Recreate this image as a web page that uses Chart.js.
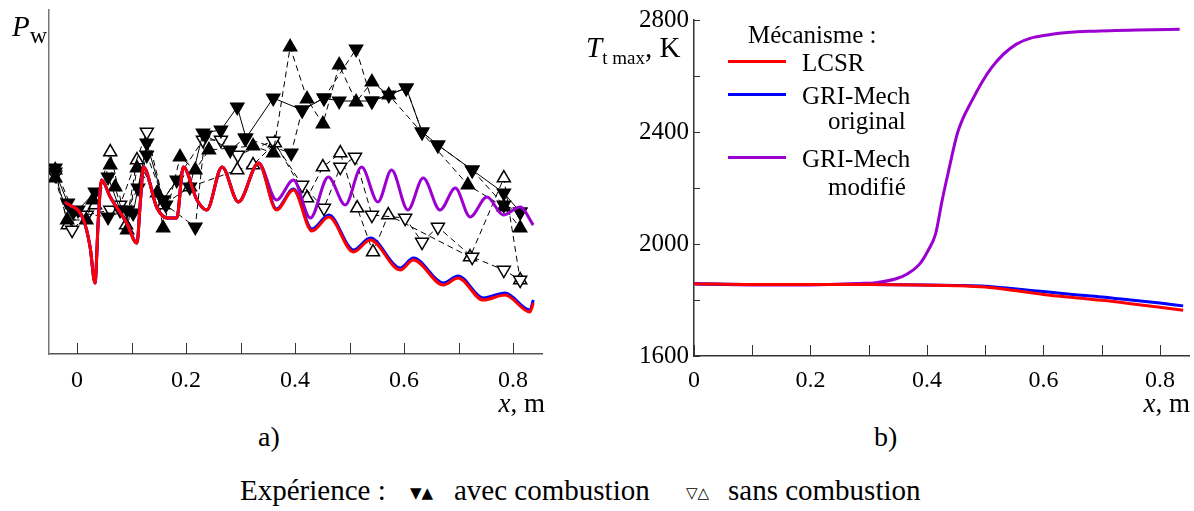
<!DOCTYPE html>
<html>
<head>
<meta charset="utf-8">
<script src="https://cdn.jsdelivr.net/npm/chart.js@4.4.1/dist/chart.umd.min.js"></script>
<style>
  body { margin: 0; background: #fff; }
  #wrap { position: relative; width: 1194px; height: 511px; overflow: hidden; font-family: "Liberation Serif", "Times New Roman", serif; color: #000; }
  #wrap canvas { position: absolute; top: 0; }
  .t { position: absolute; white-space: nowrap; font-size: 24px; line-height: 1; font-family: "Liberation Serif", serif; }
  .tri { position: absolute; white-space: nowrap; font-size: 15px; line-height: 1; font-family: "DejaVu Sans", sans-serif; }
  .key { position: absolute; height: 3px; width: 58px; }
</style>
</head>
<body>
<div id="wrap">
  <canvas id="chartA" width="560" height="400" style="left:0px"></canvas>
  <canvas id="chartB" width="614" height="400" style="left:580px"></canvas>

  <div class="t" style="left:12px;top:12px;font-size:29px"><i>P</i><span style="font-size:24px;position:relative;top:7px">w</span></div>
  <div class="t" style="left:586px;top:33px;font-size:29px"><i>T</i><span style="font-size:19px;position:relative;top:7px">t max</span>, K</div>

  <div class="t" style="right:649px;top:390px;font-size:27px"><i>x</i>, m</div>
  <div class="t" style="right:4px;top:390px;font-size:27px"><i>x</i>, m</div>
  <div class="t" style="left:258px;top:423px;font-size:28px">a)</div>
  <div class="t" style="left:874px;top:423px;font-size:28px">b)</div>

  <div class="t" style="left:748px;top:22px;font-size:25px">Mécanisme :</div>
  <div class="key" style="left:728px;top:60px;background:#ff0000"></div>
  <div class="t" style="left:802px;top:50px;font-size:25px">LCSR</div>
  <div class="key" style="left:728px;top:93px;background:#0000ff"></div>
  <div class="t" style="left:802px;top:83px;font-size:25px">GRI-Mech</div>
  <div class="t" style="left:828px;top:108px;font-size:25px">original</div>
  <div class="key" style="left:728px;top:156px;background:#9b00d0"></div>
  <div class="t" style="left:802px;top:146px;font-size:25px">GRI-Mech</div>
  <div class="t" style="left:828px;top:174px;font-size:25px">modifié</div>

  <div class="t" style="left:240px;top:476px;font-size:29px">Expérience :</div>
  <div class="tri" style="left:410px;top:486px">▼▲</div>
  <div class="t" style="left:454px;top:476px;font-size:29px">avec combustion</div>
  <div class="tri" style="left:686px;top:486px">▽△</div>
  <div class="t" style="left:728px;top:476px;font-size:29px">sans combustion</div>
</div>

<script>
// panel a) : wall pressure along x (arbitrary units)
const pwX = [-0.022, 0.012, 0.024, 0.033, 0.039, 0.045, 0.061, 0.091, 0.110, 0.116, 0.122, 0.146, 0.165, 0.183, 0.195, 0.220, 0.238, 0.266, 0.296, 0.333, 0.366, 0.397, 0.431, 0.462, 0.507, 0.538, 0.593, 0.617, 0.672, 0.699, 0.745, 0.785, 0.831, 0.837];
const pwLcsr = [1.52, 1.34, 1.07, 0.71, 1.34, 1.74, 1.57, 1.31, 1.11, 1.51, 1.87, 1.47, 1.36, 1.36, 1.87, 1.54, 1.44, 1.87, 1.52, 1.91, 1.44, 1.64, 1.23, 1.37, 1.02, 1.14, 0.84, 0.94, 0.69, 0.76, 0.54, 0.59, 0.42, 0.51];
const pwGriOrig = [1.52, 1.34, 1.07, 0.71, 1.34, 1.74, 1.57, 1.31, 1.11, 1.51, 1.87, 1.47, 1.36, 1.36, 1.87, 1.54, 1.44, 1.87, 1.52, 1.91, 1.45, 1.65, 1.25, 1.39, 1.04, 1.16, 0.86, 0.96, 0.71, 0.78, 0.56, 0.61, 0.44, 0.54];
const pwModX = [-0.022, 0.012, 0.024, 0.033, 0.039, 0.045, 0.061, 0.091, 0.110, 0.116, 0.122, 0.146, 0.165, 0.183, 0.195, 0.220, 0.238, 0.266, 0.296, 0.333, 0.366, 0.397, 0.428, 0.461, 0.492, 0.522, 0.552, 0.577, 0.607, 0.635, 0.666, 0.694, 0.721, 0.752, 0.782, 0.813, 0.837];
const pwMod = [1.52, 1.34, 1.07, 0.71, 1.34, 1.74, 1.57, 1.31, 1.11, 1.51, 1.87, 1.47, 1.36, 1.36, 1.87, 1.54, 1.44, 1.87, 1.52, 1.91, 1.54, 1.74, 1.36, 1.77, 1.49, 1.87, 1.52, 1.84, 1.44, 1.76, 1.44, 1.66, 1.37, 1.57, 1.39, 1.47, 1.29];

// experiments (avec combustion: filled, sans combustion: open)
const expA_x = [-0.040, -0.017, 0.002, 0.033, 0.057, 0.079, 0.103, 0.128, 0.158, 0.183, 0.207, 0.231, 0.264, 0.294, 0.310, 0.360, 0.413, 0.453, 0.481, 0.541, 0.572, 0.604, 0.633, 0.662, 0.725, 0.783, 0.813];
const expA_p = [1.82, 1.51, 1.44, 1.62, 1.77, 1.44, 1.41, 2.11, 1.54, 1.74, 1.67, 2.21, 2.24, 2.47, 2.16, 2.56, 2.44, 2.56, 2.53, 2.53, 2.59, 2.66, 2.22, 2.09, 1.84, 1.61, 1.42];
const expB_x = [-0.040, -0.018, 0.017, 0.029, 0.061, 0.070, 0.092, 0.110, 0.147, 0.158, 0.189, 0.217, 0.242, 0.323, 0.360, 0.391, 0.422, 0.451, 0.481, 0.512, 0.541, 0.572, 0.717, 0.783, 0.813];
const expB_p = [1.76, 1.34, 1.34, 1.54, 1.89, 1.67, 1.24, 1.86, 1.61, 1.26, 1.97, 1.84, 2.04, 2.08, 2.01, 3.07, 2.55, 2.30, 2.89, 2.52, 2.72, 2.59, 1.69, 1.47, 1.26];
const expC_x = [-0.040, -0.007, 0.057, 0.092, 0.112, 0.128, 0.163, 0.217, 0.235, 0.281, 0.308, 0.393, 0.413, 0.453, 0.512, 0.541, 0.604, 0.633, 0.662, 0.725, 0.783, 0.813];
const expC_p = [1.86, 1.42, 1.37, 1.44, 1.66, 1.99, 1.49, 1.27, 2.19, 2.04, 2.16, 2.01, 2.44, 2.56, 3.05, 2.53, 2.66, 2.22, 2.09, 1.84, 1.49, 1.42];
const expD_x = [-0.040, -0.009, 0.018, 0.061, 0.079, 0.128, 0.158, 0.231, 0.264, 0.295, 0.360, 0.413, 0.453, 0.483, 0.510, 0.541, 0.602, 0.633, 0.662, 0.725, 0.783, 0.813];
const expD_p = [1.79, 1.24, 1.39, 1.44, 1.49, 2.22, 1.54, 2.14, 2.14, 1.99, 2.13, 1.69, 1.46, 1.87, 1.97, 1.39, 1.36, 1.12, 1.27, 0.97, 0.84, 0.74];
const expE_x = [-0.040, -0.017, 0.033, 0.061, 0.090, 0.110, 0.158, 0.207, 0.294, 0.323, 0.363, 0.422, 0.451, 0.483, 0.514, 0.543, 0.571, 0.721, 0.783, 0.813];
const expE_p = [1.84, 1.29, 1.49, 2.02, 1.29, 1.94, 1.49, 1.67, 1.84, 1.89, 2.11, 1.56, 1.87, 2.01, 1.46, 1.02, 1.39, 0.97, 1.76, 0.74];

// panel b) : maximum temperature, K
const tX = [0, 0.1, 0.2, 0.3, 0.4, 0.45, 0.5, 0.55, 0.6, 0.65, 0.7, 0.75, 0.8, 0.84];
const tLcsr = [1858, 1855, 1855, 1855, 1853, 1851, 1846, 1834, 1820, 1809, 1799, 1787, 1774, 1763];
const tGriOrig = [1858, 1855, 1855, 1855, 1854, 1852, 1849, 1840, 1830, 1820, 1811, 1800, 1789, 1779];
const tModX = [0, 0.1, 0.2, 0.285, 0.312, 0.347, 0.367, 0.388, 0.402, 0.415, 0.426, 0.436, 0.453, 0.477, 0.511, 0.553, 0.615, 0.697, 0.834];
const tMod = [1858, 1854, 1854, 1859, 1862, 1876, 1894, 1930, 1977, 2037, 2155, 2250, 2400, 2511, 2630, 2713, 2749, 2761, 2767];

const xTicks = [0, 0.1, 0.2, 0.3, 0.4, 0.5, 0.6, 0.7, 0.8];
const tTicks = [1600, 1800, 2000, 2200, 2400, 2600, 2800];

const serif = "'Liberation Serif', 'Times New Roman', serif";

function pts(xs, ys) {
  return xs.map((x, i) => ({ x: x, y: ys[i] }));
}

// tick marks pointing into the plot
const ticksIn = {
  id: "ticksIn",
  afterDraw(chart, args, opts) {
    const ctx = chart.ctx;
    const a = chart.chartArea;
    ctx.save();
    ctx.strokeStyle = "#333";
    ctx.lineWidth = 1;
    ctx.beginPath();
    chart.scales.x.ticks.forEach((t) => {
      const p = Math.round(chart.scales.x.getPixelForValue(t.value)) + 0.5;
      ctx.moveTo(p, a.bottom);
      ctx.lineTo(p, a.bottom - 11);
    });
    if (opts.y) {
      chart.scales.y.ticks.forEach((t) => {
        const p = Math.round(chart.scales.y.getPixelForValue(t.value)) + 0.5;
        ctx.moveTo(a.left, p);
        ctx.lineTo(a.left + 6, p);
      });
    }
    ctx.stroke();
    ctx.restore();
  },
};

function curve(data, color, order) {
  return {
    data: data,
    borderColor: color,
    borderWidth: 3,
    pointRadius: 0,
    cubicInterpolationMode: "monotone",
    order: order,
  };
}

function exper(data, down, filled, dashed, order) {
  return {
    data: data,
    borderColor: "#000",
    borderWidth: 1,
    borderDash: dashed ? [6, 4] : [],
    pointStyle: "triangle",
    pointRotation: down ? 180 : 0,
    pointRadius: 7.5,
    pointBorderWidth: 1.5,
    pointBorderColor: "#000",
    pointBackgroundColor: filled ? "#000" : "#fff",
    tension: 0,
    order: order,
  };
}

function xLabel(v) {
  const k = Math.round(v * 10);
  if (k % 2 !== 0) return "";
  return k === 0 ? "0" : (k / 10).toFixed(1);
}

new Chart(document.getElementById("chartA"), {
  type: "line",
  data: {
    datasets: [
      curve(pts(pwX, pwLcsr), "#ff0000", 0),
      curve(pts(pwX, pwGriOrig), "#0000ff", 1),
      curve(pts(pwModX, pwMod), "#9b00d0", 2),
      exper(pts(expA_x, expA_p), true, true, false, 3),
      exper(pts(expB_x, expB_p), false, true, true, 4),
      exper(pts(expC_x, expC_p), true, true, true, 5),
      exper(pts(expD_x, expD_p), true, false, true, 6),
      exper(pts(expE_x, expE_p), false, false, true, 7),
    ],
  },
  options: {
    responsive: false,
    animation: false,
    layout: { padding: { top: 10, right: 18, left: 0, bottom: 0 } },
    plugins: { legend: { display: false }, tooltip: { enabled: false }, ticksIn: { y: false } },
    scales: {
      x: {
        type: "linear",
        min: -0.0514,
        max: 0.853,
        grid: { display: false, drawTicks: false },
        border: { color: "#555", width: 1.5 },
        afterBuildTicks: (s) => { s.ticks = xTicks.map((v) => ({ value: v })); },
        afterFit: (s) => { s.height = 46; },
        ticks: { padding: 12, color: "#000", maxRotation: 0, font: { family: serif, size: 24 }, callback: xLabel },
      },
      y: {
        type: "linear",
        min: 0,
        max: 3.44,
        grid: { display: false, drawTicks: false },
        border: { color: "#777", width: 1.5 },
        ticks: { display: false },
        afterFit: (s) => { s.width = 49; },
      },
    },
  },
  plugins: [ticksIn],
});

new Chart(document.getElementById("chartB"), {
  type: "line",
  data: {
    datasets: [
      curve(pts(tX, tLcsr), "#ff0000", 0),
      curve(pts(tX, tGriOrig), "#0000ff", 1),
      curve(pts(tModX, tMod), "#9b00d0", 2),
    ],
  },
  options: {
    responsive: false,
    animation: false,
    layout: { padding: { top: 19, right: 5, left: 0, bottom: 0 } },
    plugins: { legend: { display: false }, tooltip: { enabled: false }, ticksIn: { y: true } },
    scales: {
      x: {
        type: "linear",
        min: 0,
        max: 0.85,
        grid: { display: false, drawTicks: false },
        border: { color: "#333", width: 1.5 },
        afterBuildTicks: (s) => { s.ticks = xTicks.map((v) => ({ value: v })); },
        afterFit: (s) => { s.height = 44; },
        ticks: { padding: 10, color: "#000", maxRotation: 0, font: { family: serif, size: 24 }, callback: xLabel },
      },
      y: {
        type: "linear",
        min: 1600,
        max: 2800,
        grid: { display: false, drawTicks: false },
        border: { color: "#333", width: 1.5 },
        afterBuildTicks: (s) => { s.ticks = tTicks.map((v) => ({ value: v })); },
        afterFit: (s) => { s.width = 114; },
        ticks: {
          padding: 5,
          color: "#000",
          font: { family: serif, size: 25 },
          callback: (v) => (v % 400 === 0 ? String(v) : ""),
        },
      },
    },
  },
  plugins: [ticksIn],
});
</script>
</body>
</html>
